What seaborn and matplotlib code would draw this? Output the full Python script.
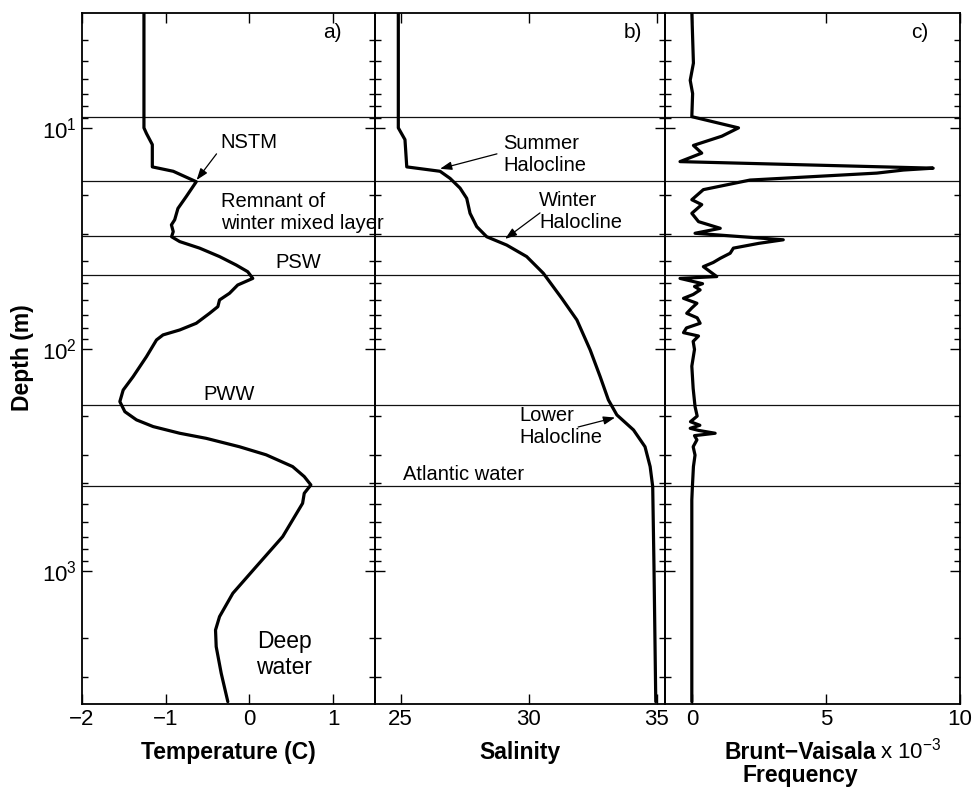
import matplotlib
matplotlib.use("Agg")
import numpy as np
import pandas as pd
import matplotlib.pyplot as plt
import seaborn as sns
from matplotlib.ticker import LogLocator, NullFormatter, FuncFormatter, FixedLocator

# ---- profile data ----
temp_depth = [3, 10, 10.6, 11.9, 15.0, 15.7, 17.5, 20.4, 23.1, 26.0, 27.4, 29.4, 31.0,
              32.6, 34.9, 38.1, 41.6, 44.6, 47.8, 51.2, 55.8, 59.8, 64.1, 68.7, 76.2,
              81.7, 86.0, 90.6, 107.8, 132.8, 152.5, 172, 191, 208, 223, 239, 252, 275,
              299, 338, 375, 409, 446, 495, 700, 957, 1261, 1607, 1847, 2197, 2898, 3890]
temperature = [-1.26, -1.26, -1.23, -1.16, -1.16, -0.91, -0.635, -0.754, -0.854, -0.893,
               -0.932, -0.91, -0.93, -0.833, -0.595, -0.357, -0.158, -0.02, 0.04, -0.14,
               -0.238, -0.357, -0.377, -0.476, -0.635, -0.833, -1.032, -1.11, -1.23,
               -1.39, -1.508, -1.548, -1.488, -1.349, -1.15, -0.833, -0.516, -0.119,
               0.199, 0.516, 0.655, 0.734, 0.655, 0.635, 0.397, 0.08, -0.198, -0.357,
               -0.405, -0.397, -0.337, -0.258]

sal_depth = [3, 10, 11.3, 15.0, 15.7, 16.9, 18.7, 20.8, 24.3, 27.9, 31.0, 33.8, 38.1,
             45.3, 58.8, 73.6, 100.6, 132.8, 169, 197.5, 230.9, 275, 338, 416, 957, 3890]
salinity = [24.91, 24.91, 25.17, 25.24, 26.54, 26.93, 27.32, 27.58, 27.71, 27.97, 28.36,
            29.14, 29.92, 30.57, 31.29, 31.88, 32.40, 32.79, 33.11, 33.44, 34.09, 34.54,
            34.74, 34.84, 34.89, 34.96]

bvf_depth = [3, 5.1, 6.1, 7.0, 8.9, 10, 10.9, 12, 13, 14.2, 15.2, 15.5, 16.0, 17.2, 19.0,
             21.1, 22.2, 24.3, 26.5, 28.4, 29.9, 32.0, 33.2, 34.9, 36.8, 38.8, 40.5, 42.3,
             46.9, 47.8, 50.5, 52, 53.9, 56.5, 58.8, 61.9, 65.0, 68.7, 72.0, 76.2, 80.0,
             84.0, 87.0, 92, 100, 119, 150, 181, 200, 212, 220, 227, 232, 239, 245, 256,
             275, 300, 338, 420, 478, 1000, 3890]
bvf_e3 = [0.0, 0.06, -0.06, 0.03, 0.0, 1.74, 1.12, 0.06, 0.37, -0.44, 9.0, 7.89, 6.9,
          2.17, 0.43, 0.0, 0.37, 0.0, 0.25, 1.06, 0.12, 3.41, 2.5, 1.55, 1.43, 1.06, 0.8,
          0.43, 0.93, -0.44, 0.4, 0.1, 0.31, 0.05, -0.31, 0.19, 0.0, -0.19, 0.2, 0.31,
          -0.2, -0.31, 0.25, 0.05, 0.1, 0.0, 0.05, 0.12, 0.2, -0.05, 0.3, -0.06, 0.25,
          0.87, 0.1, 0.19, 0.05, 0.12, 0.06, 0.02, 0.0, 0.0, 0.0]

# water mass boundaries (m)
boundaries = [8.9, 17.3, 30.9, 46.0, 179, 414]

temp_ticks = [-2, -1, 0, 1]
sal_ticks = [25, 30, 35]
bvf_ticks = [0, 5e-3, 10e-3]

df_t = pd.DataFrame({"depth": temp_depth, "value": temperature})
df_s = pd.DataFrame({"depth": sal_depth, "value": salinity})
df_n = pd.DataFrame({"depth": bvf_depth, "value": np.array(bvf_e3) * 1e-3})

# ---- style ----
sns.set_style("ticks")
plt.rcParams["font.family"] = ["Liberation Sans", "DejaVu Sans"]
plt.rcParams["mathtext.default"] = "regular"
plt.rcParams["axes.unicode_minus"] = True
for key in ("text.color", "axes.labelcolor", "xtick.color", "ytick.color",
            "axes.edgecolor"):
    plt.rcParams[key] = "black"

fig = plt.figure(figsize=(9.72, 7.87), dpi=100)
W, H = 972, 787
bottom_px, top_px = 704, 13
edges = [82, 375, 665, 960]
axes = []
for i in range(3):
    ax = fig.add_axes([edges[i] / W, (H - bottom_px) / H,
                       (edges[i + 1] - edges[i]) / W, (bottom_px - top_px) / H])
    ax.set_facecolor("none")
    axes.append(ax)

lw_prof = 2.3
for ax, df in zip(axes, [df_t, df_s, df_n]):
    sns.lineplot(data=df, x="value", y="depth", sort=False, estimator=None,
                 color="black", lw=lw_prof, ax=ax)
    ax.set_yscale("log")
    ax.set_ylim(3986, 3.03)
    for b in boundaries:
        ax.axhline(b, color="#111111", lw=0.9, zorder=1)
    ax.yaxis.set_major_locator(LogLocator(base=10, numticks=10))
    ax.yaxis.set_minor_locator(LogLocator(base=10, subs=np.arange(2, 10), numticks=20))
    ax.yaxis.set_minor_formatter(NullFormatter())
    ax.tick_params(which="both", direction="in", top=True, right=True,
                   labelsize=16, width=1.0, colors="black")
    ax.tick_params(which="major", length=7)
    ax.tick_params(which="minor", length=4)
    for s in ax.spines.values():
        s.set_linewidth(1.3)
        s.set_color("black")
    ax.set_ylabel("")

ax_t, ax_s, ax_n = axes

ax_t.set_xlim(-2, 1.5)
ax_t.xaxis.set_major_locator(FixedLocator(temp_ticks))
ax_s.set_xlim(24, 35.32)
ax_s.xaxis.set_major_locator(FixedLocator(sal_ticks))
ax_n.set_xlim(-1e-3, 10e-3)
ax_n.xaxis.set_major_locator(FixedLocator(bvf_ticks))
ax_n.xaxis.set_major_formatter(FuncFormatter(lambda v, p: f"{v * 1e3:g}"))
for ax in (ax_s, ax_n):
    ax.tick_params(axis="y", which="both", labelleft=False)

lab_kw = dict(fontsize=16.5, fontweight="bold", color="black")
ax_t.set_xlabel("Temperature (C)", **lab_kw)
ax_s.set_xlabel("Salinity", **lab_kw)
ax_n.set_xlabel("Brunt\u2212Vaisala\nFrequency", linespacing=1.0, **lab_kw)
for ax in axes:
    ax.xaxis.set_label_coords(0.5, -0.053)
ax_n.xaxis.set_label_coords(0.458, -0.053)
fig.text(23 / W, (H - 358) / H, "Depth (m)", rotation=90, ha="center", va="center",
         **lab_kw)
fig.text(880 / W, (H - 759) / H, "x 10$^{-3}$", fontsize=16, va="baseline", ha="left")

# panel letters
pan_kw = dict(fontsize=15, ha="right", va="center")
ax_t.text(0.887, 0.972, "a)", transform=ax_t.transAxes, **pan_kw)
ax_s.text(0.921, 0.972, "b)", transform=ax_s.transAxes, **pan_kw)
ax_n.text(0.892, 0.972, "c)", transform=ax_n.transAxes, **pan_kw)

# water mass labels
ann = 14.5
ax_t.text(-0.345, 11.7, "NSTM", fontsize=ann, ha="left", va="center")
ax_t.text(-0.345, 24.2, "Remnant of\nwinter mixed layer", fontsize=ann,
          ha="left", va="center", clip_on=False, zorder=5)
ax_t.text(0.583, 40.6, "PSW", fontsize=ann, ha="center", va="center")
ax_t.text(-0.238, 159.6, "PWW", fontsize=ann, ha="center", va="center")
ax_t.text(0.417, 2382, "Deep\nwater", fontsize=16.5, ha="center", va="center")
ax_s.text(25.09, 366, "Atlantic water", fontsize=ann, ha="left", va="center")
ax_s.text(29.0, 13.2, "Summer\nHalocline", fontsize=ann, ha="left", va="center")
ax_s.text(30.40, 23.8, "Winter\nHalocline", fontsize=ann, ha="left", va="center")
ax_s.text(29.62, 222.6, "Lower\nHalocline", fontsize=ann, ha="left", va="center")

arrow_kw = dict(arrowstyle="-|>,head_length=0.7,head_width=0.25", color="black",
                lw=0.9, shrinkA=0, shrinkB=0)
ax_t.annotate("", xy=(-0.631, 17.2), xytext=(-0.393, 13.1), arrowprops=arrow_kw)
ax_s.annotate("", xy=(26.54, 15.3), xytext=(28.76, 13.1), arrowprops=arrow_kw)
ax_s.annotate("", xy=(29.08, 31.7), xytext=(30.44, 24.2), arrowprops=arrow_kw)
ax_s.annotate("", xy=(33.37, 203), xytext=(31.93, 224), arrowprops=arrow_kw)

fig.savefig("out.png", dpi=100, facecolor="white")
